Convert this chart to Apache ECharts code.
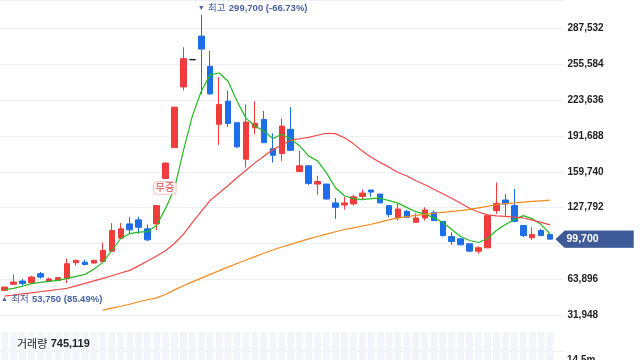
<!DOCTYPE html>
<html><head><meta charset="utf-8">
<script src="https://cdn.jsdelivr.net/npm/echarts@6/dist/echarts.min.js"></script>
<style>html,body{margin:0;padding:0;background:#fff}#c{width:640px;height:360px}</style>
</head><body><div id="c"></div>
<script>
const categories = ['1','2','3','4','5','6','7','8','9','10','11','12','13','14','15','16','17','18','19','20','21','22','23','24','25','26','27','28','29','30','31','32','33','34','35','36','37','38','39','40','41','42','43','44','45','46','47','48','49','50','51','52','53','54','55','56','57','58','59','60','61','62'];
const opens = [54100,59500,62400,61000,68900,62400,63000,64500,78700,79200,78400,79900,89000,100600,113300,116900,108900,113300,153800,181300,235400,259700,280700,253800,202100,222700,203500,171000,199000,206400,180400,176000,197600,160000,165100,148800,148800,132000,130200,131100,137800,143500,139900,129600,118600,124500,114700,118600,123600,115400,102000,100000,95600,89000,92000,125100,134600,129600,111800,100900,107400,103800];
const closes = [57000,61500,60100,65900,65900,64200,65400,77800,80800,77200,80800,89600,107400,108900,108000,110300,99100,129600,167500,217400,260600,259700,269200,229200,219800,202900,182000,204100,202900,185700,174500,200500,178900,165100,149400,151100,135500,128100,132000,137500,140800,141700,132000,121600,126600,119200,118600,125700,116200,102900,97600,94700,89000,92000,120700,131600,131100,115600,102900,103800,102900,99700];
const lows = [53750,59000,58300,60200,64500,61800,63000,60600,76300,76300,78000,79200,88100,100000,104400,104400,97900,108000,153800,181300,232200,259700,228700,228700,183700,199700,181000,163500,193200,185700,168000,169500,178900,160000,147900,139300,134900,117800,126000,129600,134600,137500,132000,119200,116200,118600,114700,116200,116200,102000,94700,94100,88700,86700,92000,122200,120700,114700,101500,99100,102900,99700];
const highs = [57000,68300,64200,67000,70400,65400,66000,82300,81400,81400,81400,96500,113900,114200,119200,119800,112700,129600,168000,217400,270700,259700,299700,267700,244000,232200,203500,219800,222700,213900,194100,207400,217400,178400,165100,156200,148800,136400,137500,139100,143800,143500,139900,129600,131100,125700,122700,128100,125100,115400,105900,100900,95600,93200,120700,150200,139900,144400,111800,110300,108900,103800];
const ma5 = [54600,55900,57700,60100,61200,62100,63000,64800,66600,68300,72800,79000,89600,100300,104700,106000,106500,111800,126900,144600,178400,209400,231600,246400,247800,240500,222700,207600,200500,196100,189500,193200,189000,182800,173900,169500,158800,145500,138400,135800,134900,135800,136200,134000,131800,127800,124200,122000,118900,114500,108300,102100,98500,96700,100300,107400,112700,117100,120700,118000,112700,104300];
const ma20 = [49000,49900,50900,51800,52800,53800,54800,55900,58000,60300,62500,64800,67100,69500,71900,75900,80300,84700,89400,95800,104000,114500,124400,134300,140900,147600,154400,161200,167700,173700,179600,183700,187800,189200,190500,192300,194100,193800,190100,184900,178200,172800,168100,163900,159100,156000,151800,148200,144200,140200,136200,131700,127200,123900,121400,120400,120000,119400,118600,116700,114600,112500];
const ma60 = [null,null,null,null,null,null,null,null,null,null,null,36500,38200,39900,41700,43900,45700,47400,50400,54500,58200,61600,65000,68300,71600,74800,78000,81100,84100,87100,90000,92700,95100,97500,99900,102100,104200,106300,108300,109800,111400,113000,114900,116900,118600,119800,120900,121800,122800,123600,124400,125200,126200,127600,129000,130400,131400,132000,132700,133300,133900,134500];
const volumes = [null,null,null,null,null,null,null,null,null,null,null,null,null,null,null,null,null,null,null,null,null,null,null,null,null,null,null,null,null,null,null,null,null,null,null,null,null,null,null,null,null,null,null,null,null,null,null,null,null,null,null,null,null,null,null,null,null,null,null,null,null,745119];
const priceTick = 31948;
const priceMax = 312900;
const volumeMaxLabel = '14.5m';
const eventLabel = '무증';
const eventIndex = 18;

const UP = '#f03c3c', DOWN = '#1c6fe6', NOTE = '#4a62a3';
const fmt = v => v.toLocaleString('en-US');
const candleData = opens.map((o, i) => [o, closes[i], lows[i], highs[i]]);
let hiIdx = 0, loIdx = 0;
highs.forEach((h, i) => { if (h > highs[hiIdx]) hiIdx = i; });
lows.forEach((l, i) => { if (l < lows[loIdx]) loIdx = i; });
const lastIdx = closes.length - 1;
const last = closes[lastIdx];
const pct = v => ((last - v) / v * 100).toFixed(2);
const lastVol = volumes[volumes.length - 1];

const chart = echarts.init(document.getElementById('c'), null, {renderer: 'canvas'});
const hiddenX = {
  type: 'category', data: categories, max: categories.length, boundaryGap: true,
  axisLine: {show: false}, axisTick: {show: false}, axisLabel: {show: false}, splitLine: {show: false}
};
const option = {
  animation: false,
  textStyle: {fontFamily: "'Liberation Sans', Arial, 'Noto Sans CJK KR', sans-serif"},
  grid: [
    {left: 0, right: 76.5, top: 0, bottom: 9},
    {left: 0, right: 76.5, top: 332, bottom: 0}
  ],
  xAxis: [Object.assign({}, hiddenX), Object.assign({gridIndex: 1}, hiddenX)],
  yAxis: [
    {
      type: 'value', position: 'right', min: 0, max: priceMax, interval: priceTick,
      axisLine: {show: false}, axisTick: {show: false},
      splitLine: {lineStyle: {color: '#eceff3', width: 1}},
      axisLabel: {showMinLabel: false, showMaxLabel: false, margin: 4, fontSize: 10, fontWeight: 'bold', color: '#222',
        formatter: v => (v % priceTick === 0 ? fmt(v) : '')}
    },
    {type: 'value', gridIndex: 1, min: 0, max: 14500000, show: false}
  ],
  series: [
    {
      type: 'bar', xAxisIndex: 1, yAxisIndex: 1, data: volumes, barWidth: 7,
      showBackground: true, backgroundStyle: {color: '#f3f5fa'},
      itemStyle: {color: '#eef1f8'}, silent: true
    },
    {
      type: 'candlestick', data: candleData, barWidth: 6,
      itemStyle: {color: UP, color0: DOWN, borderColor: UP, borderColor0: DOWN, borderColorDoji: '#111', borderWidth: 1},
      markPoint: {
        silent: true,
        data: [
          {
            coord: [hiIdx, highs[hiIdx]], symbol: 'circle', symbolSize: 1, itemStyle: {color: 'rgba(0,0,0,0)'},
            label: {
              show: true, position: [-3, -6], align: 'left', verticalAlign: 'middle',
              formatter: '{t|▼} {k|최고} {v|' + fmt(highs[hiIdx]) + ' (' + pct(highs[hiIdx]) + '%)}',
              rich: {t: {fontSize: 7, color: NOTE}, k: {fontSize: 9.5, color: NOTE}, v: {fontSize: 9.5, fontWeight: 'bold', color: NOTE}}
            }
          },
          {
            coord: [loIdx, lows[loIdx]], symbol: 'circle', symbolSize: 1, itemStyle: {color: 'rgba(0,0,0,0)'},
            label: {
              show: true, position: [-3, 9], align: 'left', verticalAlign: 'middle',
              formatter: '{t|▲} {k|최저} {v|' + fmt(lows[loIdx]) + ' (' + pct(lows[loIdx]) + '%)}',
              rich: {t: {fontSize: 7, color: NOTE}, k: {fontSize: 9.5, color: NOTE}, v: {fontSize: 9.5, fontWeight: 'bold', color: NOTE}}
            }
          },
          {
            coord: [eventIndex, lows[eventIndex]], symbol: 'circle', symbolSize: 1, itemStyle: {color: 'rgba(0,0,0,0)'},
            label: {
              show: true, position: [0, 10], align: 'center', verticalAlign: 'middle',
              formatter: eventLabel, fontSize: 10.5, color: '#d8494b',
              backgroundColor: '#fff', borderColor: '#f1c2c2', borderWidth: 1, borderRadius: 3, padding: [1, 1, 0, 1]
            }
          },
          {
            coord: [lastIdx, last], symbol: 'path://M0,8.5L9,0L77,0L77,17L9,17Z', symbolSize: [77, 17],
            symbolKeepAspect: false, symbolOffset: [44.5, 0],
            itemStyle: {color: '#3e5a98', borderColor: '#34508c', borderWidth: 0.5},
            label: {show: true, position: 'inside', offset: [-12, 0], formatter: fmt(last), color: '#fff', fontWeight: 'bold', fontSize: 10.5}
          }
        ]
      }
    },
    {type: 'line', data: ma5, symbol: 'none', lineStyle: {color: '#22bb22', width: 1.2}, z: 3},
    {type: 'line', data: ma20, symbol: 'none', lineStyle: {color: '#f04848', width: 1.2}, z: 3},
    {type: 'line', data: ma60, symbol: 'none', lineStyle: {color: '#f5891f', width: 1.2}, z: 3}
  ],
  graphic: [
    {
      type: 'text', left: 17, top: 338, z: 10,
      style: {
        text: '{a|거래량} {b|' + fmt(lastVol) + '}',
        rich: {a: {fontSize: 11, fill: '#222', fontFamily: "'Noto Sans CJK KR', sans-serif"}, b: {fontSize: 11, fontWeight: 'bold', fill: '#222', fontFamily: "'Liberation Sans', Arial, sans-serif"}}
      }
    },
    {
      type: 'text', left: 567, top: 355, z: 10,
      style: {text: volumeMaxLabel, fontSize: 10, fontWeight: 'bold', fill: '#222', fontFamily: "'Liberation Sans', Arial, sans-serif"}
    }
  ]
};
chart.setOption(option);
</script>
</body></html>
